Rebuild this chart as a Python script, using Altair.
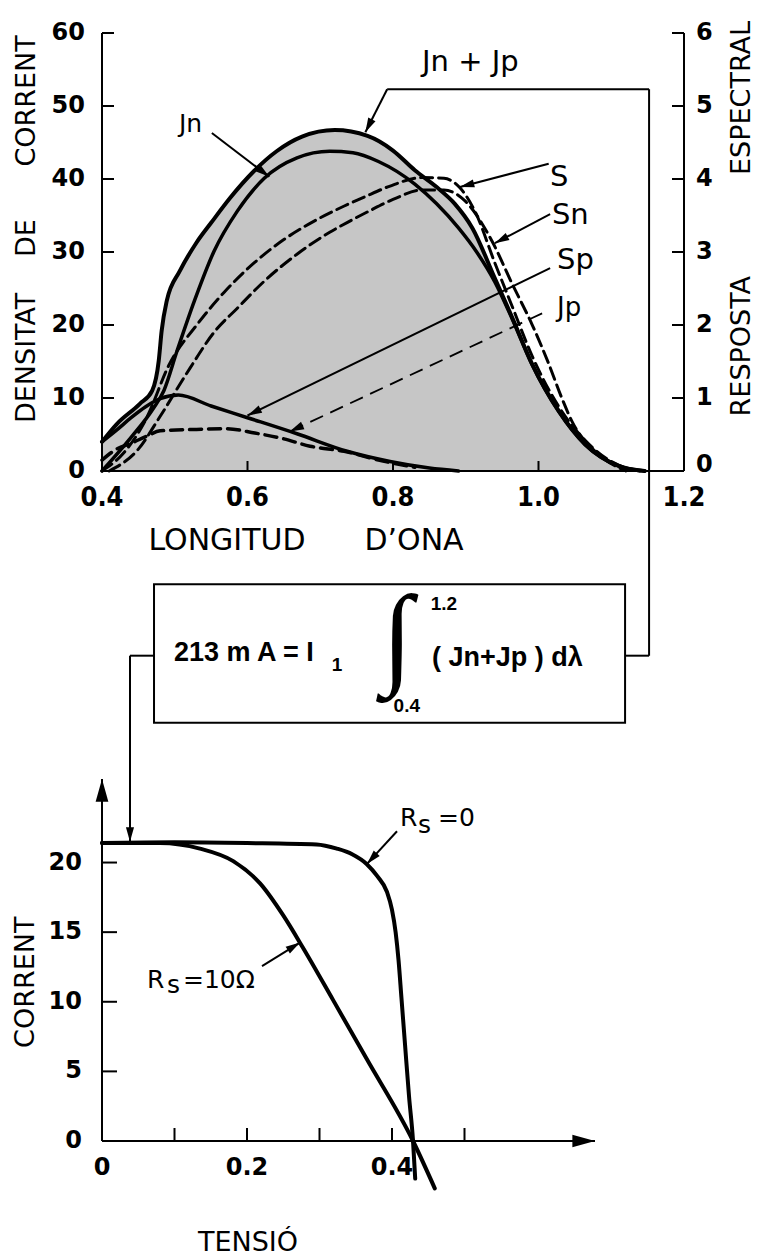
import math
import altair as alt
import pandas as pd

# ---------------- top panel: spectral current density (left axis 0-60) ----------------
wl_tot = [0.400, 0.420, 0.452, 0.469, 0.478, 0.482, 0.489, 0.507, 0.530, 0.550,
          0.576, 0.609, 0.640, 0.675, 0.720, 0.765, 0.800, 0.830, 0.860, 0.885,
          0.909, 0.940, 0.964, 0.991, 1.028, 1.064, 1.110, 1.146]
j_tot = [4.0, 6.4, 9.2, 11.0, 15.1, 19.2, 23.3, 27.4, 31.3, 34.0,
         37.4, 41.1, 43.8, 45.8, 46.7, 45.9, 43.9, 41.2, 38.9, 36.6,
         33.3, 26.4, 21.0, 14.7, 8.2, 3.7, 0.7, 0.0]

wl_jn = [0.400, 0.440, 0.470, 0.485, 0.503, 0.527, 0.554, 0.586, 0.623, 0.668,
         0.713, 0.745, 0.780, 0.830, 0.860, 0.890, 0.915, 0.940, 0.964, 0.991,
         1.028, 1.064, 1.110, 1.146]
j_jn = [0.0, 4.6, 8.5, 11.0, 16.4, 23.3, 30.1, 35.6, 40.1, 42.9,
        43.8, 43.6, 42.4, 39.3, 36.6, 33.3, 30.0, 25.9, 20.8, 14.6,
        8.1, 3.6, 0.7, 0.0]

wl_jp = [0.400, 0.420, 0.440, 0.460, 0.480, 0.505, 0.550, 0.600, 0.668, 0.737,
         0.796, 0.850, 0.890]
j_jp = [4.0, 5.6, 7.3, 8.8, 9.9, 10.4, 8.9, 7.3, 5.1, 2.7, 1.3, 0.4, 0.0]

# spectral response (right axis 0-6)
wl_s = [0.400, 0.430, 0.460, 0.493, 0.531, 0.568, 0.609, 0.650, 0.691, 0.733,
        0.762, 0.795, 0.840, 0.870, 0.892, 0.913, 0.940, 0.964, 0.991, 1.028,
        1.064, 1.110, 1.140]
s_s = [0.00, 0.25, 0.70, 1.47, 2.01, 2.45, 2.85, 3.17, 3.42, 3.63,
       3.76, 3.90, 4.02, 4.01, 3.88, 3.55, 2.85, 2.25, 1.58, 0.88,
       0.42, 0.08, 0.00]

wl_sn = [0.410, 0.450, 0.480, 0.521, 0.554, 0.586, 0.623, 0.668, 0.713, 0.740,
         0.767, 0.800, 0.840, 0.870, 0.899, 0.936, 0.964, 0.991, 1.014, 1.032,
         1.046, 1.080, 1.120]
s_sn = [0.00, 0.30, 0.75, 1.41, 1.90, 2.23, 2.60, 2.97, 3.27, 3.42,
        3.56, 3.72, 3.85, 3.85, 3.70, 3.15, 2.56, 2.01, 1.47, 1.00,
        0.68, 0.25, 0.00]

wl_sp = [0.400, 0.420, 0.440, 0.462, 0.480, 0.530, 0.570, 0.610, 0.650, 0.686,
         0.733, 0.780, 0.830]
s_sp = [0.15, 0.30, 0.38, 0.48, 0.55, 0.57, 0.58, 0.52, 0.44, 0.34,
        0.27, 0.15, 0.05]

top_x_labels = [0.4, 0.6, 0.8, 1.0, 1.2]
top_x_inner_ticks = [0.6, 0.8, 1.0]
left_ticks = [0, 10, 20, 30, 40, 50, 60]
right_ticks = [0, 1, 2, 3, 4, 5, 6]
right_label_y = [0.08, 1, 2, 3, 4, 5, 6]

# ---------------- bottom panel: I-V curves ----------------
v_rs0 = [0.000, 0.100, 0.200, 0.296, 0.324, 0.345, 0.365, 0.380, 0.393, 0.400,
         0.405, 0.409, 0.413, 0.418, 0.4235, 0.429, 0.432]
i_rs0 = [21.4, 21.45, 21.4, 21.3, 21.0, 20.6, 19.9, 19.0, 17.9, 16.6,
         15.0, 13.0, 10.3, 6.9, 3.2, 0.0, -2.7]
v_rs10 = [0.000, 0.080, 0.135, 0.181, 0.218, 0.250, 0.277, 0.319, 0.365, 0.429, 0.459]
i_rs10 = [21.4, 21.4, 21.0, 20.1, 18.5, 16.2, 13.9, 10.1, 5.9, 0.0, -3.4]

bot_x_labels = [0, 0.2, 0.4]
bot_x_label_text = ["0", "0.2", "0.4"]
bot_x_ticks = [0.1, 0.2, 0.3, 0.4, 0.5]
bot_y_ticks = [0, 5, 10, 15, 20]

# ---------------- annotation positions (data coordinates) ----------------
lead_x0 = [0.792, 0.551, 1.014, 1.016, 1.016]
lead_y0 = [52.3, 46.3, 42.1, 35.2, 27.8]
lead_x1 = [0.762, 0.630, 0.892, 0.940, 0.600]
lead_y1 = [46.4, 40.3, 38.9, 31.2, 7.6]
dlead_x0, dlead_y0, dlead_x1, dlead_y1 = [1.005], [21.6], [0.658], [5.4]

conn_x0 = [0.792, 1.152, 1.152, 0.4715, 0.4385]
conn_y0 = [52.3, 52.3, -25.3, -25.3, -25.3]
conn_x1 = [1.152, 1.152, 1.119, 0.4385, 0.4385]
conn_y1 = [52.3, -25.3, -25.3, -25.3, -40.5]
box_x, box_x2, box_y, box_y2 = [0.4715], [1.119], [-15.5], [-34.5]

lab_text = ["Jn + Jp", "Jn", "S", "Sn", "Sp", "Jp"]
lab_x = [0.8399, 0.5058, 1.0158, 1.0185, 1.0254, 1.0254]
lab_y = [54.8, 46.4, 39.0, 33.8, 27.7, 21.2]
lab_size = [29, 25, 29, 29, 29, 26]

ytitle_text = ["DENSITAT", "DE", "CORRENT"]
ytitle_y = [15.5, 31.9, 50.7]
rtitle_text = ["RESPOSTA", "ESPECTRAL"]
rtitle_y = [17.1, 51.1]
xtitle_text = ["LONGITUD", "D\u2019ONA"]
xtitle_x = [0.5718, 0.8289]

blead_x0 = [0.0386, 0.4069, 0.2207]
blead_y0 = [27.6, 22.25, 12.56]
blead_x1 = [0.0386, 0.3655, 0.2731]
blead_y1 = [21.5, 19.9, 14.25]

rs_text = ["R", "s", "=0", "R", "s", "=10\u03a9"]
rs_x = [0.4110, 0.4359, 0.4634, 0.0621, 0.0897, 0.1117]
rs_y = [22.61, 22.11, 22.61, 11.0, 10.6, 11.0]

# ---------------- helpers ----------------
FONT = "DejaVu Sans"
NARROW = "Liberation Sans Narrow, DejaVu Sans Condensed, Liberation Sans"
FORM = "Liberation Sans"
ARROW = "M0,0L0.45,1.6L-0.45,1.6Z"

XD1, YD1, RD1 = [0.4, 1.2], [0, 60], [0, 6]
W1, H1 = 582, 438
KX1, KY1 = W1 / (XD1[1] - XD1[0]), H1 / (YD1[1] - YD1[0])
XD2, YD2 = [0, 0.68], [0, 26]
W2, H2 = 493, 362
KX2, KY2 = W2 / (XD2[1] - XD2[0]), H2 / (YD2[1] - YD2[0])

xs1 = alt.Scale(domain=XD1, nice=False, zero=False)
ys1 = alt.Scale(domain=YD1, nice=False, zero=False)
rs1 = alt.Scale(domain=RD1, nice=False, zero=False)
xs2 = alt.Scale(domain=XD2, nice=False, zero=False)
ys2 = alt.Scale(domain=YD2, nice=False, zero=False)


def angle(x0, y0, x1, y1, kx, ky):
    dx = (x1 - x0) * kx
    dy = -(y1 - y0) * ky
    return math.degrees(math.atan2(dx, -dy)) % 360


def XY(xsc, ysc):
    return dict(x=alt.X("x:Q", scale=xsc, axis=None), y=alt.Y("y:Q", scale=ysc, axis=None))


def curve(x, y, xsc, ysc, **mk):
    return alt.Chart(pd.DataFrame({"x": x, "y": y})).mark_line(
        color="black", strokeJoin="round", strokeCap="round", interpolate="monotone",
        **mk).encode(**XY(xsc, ysc))


def segs(x0, y0, x1, y1, xsc, ysc, **mk):
    d = pd.DataFrame({"x": x0, "y": y0, "x2": x1, "y2": y1})
    return alt.Chart(d).mark_rule(color="black", **mk).encode(
        **XY(xsc, ysc), x2="x2:Q", y2="y2:Q")


def heads(x0, y0, x1, y1, xsc, ysc, kx, ky, size=324):
    d = pd.DataFrame({"x": x1, "y": y1,
                      "a": [angle(a, b, c, e, kx, ky) for a, b, c, e in zip(x0, y0, x1, y1)]})
    return alt.Chart(d).mark_point(shape=ARROW, filled=True, color="black", opacity=1,
                                   size=size, strokeWidth=0).encode(
        **XY(xsc, ysc), angle=alt.Angle("a:Q", scale=None))


def texts(t, x, y, xsc, ysc, size=None, **mk):
    d = pd.DataFrame({"x": x, "y": y, "t": t})
    enc = XY(xsc, ysc)
    enc["text"] = "t:N"
    if size is not None:
        d["s"] = size
        enc["size"] = alt.Size("s:Q", scale=None)
    return alt.Chart(d).mark_text(color="black", **mk).encode(**enc)


# ---------------- top panel ----------------
tick_len_x = 12 / KX1
tick_len_y = 10 / KY1
lt = left_ticks[1:]
rt = right_ticks[1:]
bt = top_x_inner_ticks

left_group = alt.layer(
    alt.Chart(pd.DataFrame({"x": wl_tot, "y": j_tot})).mark_area(
        color="#c6c6c6", interpolate="monotone").encode(**XY(xs1, ys1)),
    curve(wl_tot, j_tot, xs1, ys1, strokeWidth=4),
    curve(wl_jn, j_jn, xs1, ys1, strokeWidth=3.5),
    curve(wl_jp, j_jp, xs1, ys1, strokeWidth=3.5),
    # axis lines
    segs([0.4, 1.2, 0.4], [0, 0, 0], [0.4, 1.2, 1.2], [60, 60, 0], xs1, ys1, strokeWidth=2),
    segs([0.4] * len(lt), lt, [0.4 + tick_len_x] * len(lt), lt, xs1, ys1, strokeWidth=2),
    segs(bt, [0] * len(bt), bt, [tick_len_y] * len(bt), xs1, ys1, strokeWidth=2),
    # axis labels
    texts([str(v) for v in left_ticks], [0.4 - 17 / KX1] * len(left_ticks), left_ticks,
          xs1, ys1, font=FONT, fontSize=24, fontWeight="bold", align="right",
          baseline="middle"),
    texts(["%.1f" % v for v in top_x_labels], top_x_labels, [-27 / KY1] * len(top_x_labels),
          xs1, ys1, font=NARROW, fontSize=27, fontWeight="bold", align="center",
          baseline="middle"),
    # connectors and leaders
    segs(conn_x0, conn_y0, conn_x1, conn_y1, xs1, ys1, strokeWidth=2),
    segs(lead_x0, lead_y0, lead_x1, lead_y1, xs1, ys1, strokeWidth=2),
    segs(dlead_x0, dlead_y0, dlead_x1, dlead_y1, xs1, ys1, strokeWidth=1.8, strokeDash=[14, 8]),
    heads(lead_x0, lead_y0, lead_x1, lead_y1, xs1, ys1, KX1, KY1),
    heads(dlead_x0, dlead_y0, dlead_x1, dlead_y1, xs1, ys1, KX1, KY1),
    alt.Chart(pd.DataFrame({"x": box_x, "x2": box_x2, "y": box_y, "y2": box_y2})).mark_rect(
        fillOpacity=0, stroke="black", strokeWidth=2).encode(**XY(xs1, ys1), x2="x2:Q", y2="y2:Q"),
    texts(lab_text, lab_x, lab_y, xs1, ys1, size=lab_size, font=FONT, align="left",
          baseline="alphabetic"),
    texts(ytitle_text, [0.4 - 75 / KX1] * 3, ytitle_y, xs1, ys1, font=FONT, fontSize=27,
          angle=270, align="center", baseline="middle"),
    texts(rtitle_text, [1.2797] * 2, rtitle_y, xs1, ys1, font=FONT, fontSize=27, angle=270,
          align="center", baseline="middle"),
    texts(xtitle_text, xtitle_x, [-9.6] * 2, xs1, ys1, font=FONT, fontSize=30,
          align="center", baseline="middle"),
    # formula
    texts(["213 m A = I"], [0.499], [-24.9], xs1, ys1, font=FORM, fontSize=27,
          fontWeight="bold", align="left", baseline="middle"),
    texts(["1"], [0.723], [-26.6], xs1, ys1, font=FORM, fontSize=19, fontWeight="bold",
          align="center", baseline="middle"),
    texts(["\u222b"], [0.8055], [-23.0], xs1, ys1, font="Liberation Serif, DejaVu Serif",
          fontSize=112, align="center", baseline="middle"),
    texts(["1.2", "0.4"], [0.870, 0.819], [-18.2, -32.2], xs1, ys1, font=FORM, fontSize=19,
          fontWeight="bold", align="center", baseline="middle"),
    texts(["( Jn+Jp ) d\u03bb"], [0.8536], [-25.6], xs1, ys1, font=FORM, fontSize=27,
          fontWeight="bold", align="left", baseline="middle"),
)

right_group = alt.layer(
    curve(wl_s, s_s, xs1, rs1, strokeWidth=3, strokeDash=[12, 6]),
    curve(wl_sn, s_sn, xs1, rs1, strokeWidth=3, strokeDash=[12, 6]),
    curve(wl_sp, s_sp, xs1, rs1, strokeWidth=3.5, strokeDash=[12, 7]),
    segs([1.2 - tick_len_x] * len(rt), rt, [1.2] * len(rt), rt, xs1, rs1, strokeWidth=2),
    texts([str(v) for v in right_ticks], [1.2 + 12 / KX1] * len(right_ticks), right_label_y,
          xs1, rs1, font=FONT, fontSize=24, fontWeight="bold", align="left",
          baseline="middle"),
)

top = alt.layer(left_group, right_group).resolve_scale(y="independent").properties(
    width=W1, height=H1)

# ---------------- bottom panel ----------------
ytk = bot_y_ticks[1:]
bottom = alt.layer(
    curve(v_rs0, i_rs0, xs2, ys2, strokeWidth=4),
    curve(v_rs10, i_rs10, xs2, ys2, strokeWidth=4),
    segs([0, 0], [0, 0], [0, 0.68], [26, 0], xs2, ys2, strokeWidth=2),
    segs([0] * len(ytk), ytk, [15 / KX2] * len(ytk), ytk, xs2, ys2, strokeWidth=2),
    segs(bot_x_ticks, [0] * len(bot_x_ticks), bot_x_ticks, [13 / KY2] * len(bot_x_ticks),
         xs2, ys2, strokeWidth=2),
    texts([str(v) for v in bot_y_ticks], [-20 / KX2] * len(bot_y_ticks), bot_y_ticks,
          xs2, ys2, font=FONT, fontSize=24, fontWeight="bold", align="right",
          baseline="middle"),
    texts(bot_x_label_text, bot_x_labels, [-27 / KY2] * len(bot_x_labels), xs2, ys2,
          font=FONT, fontSize=24, fontWeight="bold", align="center", baseline="middle"),
    segs(blead_x0, blead_y0, blead_x1, blead_y1, xs2, ys2, strokeWidth=2),
    heads(blead_x0, blead_y0, blead_x1, blead_y1, xs2, ys2, KX2, KY2),
    heads([0, 0.6], [25, 0], [0, 0.68], [26, 0], xs2, ys2, KX2, KY2, size=800),
    texts(rs_text, rs_x, rs_y, xs2, ys2, font=FONT, fontSize=25, align="left",
          baseline="alphabetic"),
    texts(["CORRENT"], [-76 / KX2], [11.4], xs2, ys2, font=FONT, fontSize=27, angle=270,
          align="center", baseline="middle"),
    texts(["TENSI\u00d3"], [0.2014], [-7.3], xs2, ys2, font=FONT, fontSize=27,
          align="center", baseline="middle"),
).properties(width=W2, height=H2)

chart = alt.vconcat(top, bottom, spacing=308, bounds="flush").properties(
    padding={"left": 3, "top": 12, "right": 0, "bottom": 0},
    background="white",
).configure_view(stroke="transparent")

chart.save("out.html", embed_options={"renderer": "svg", "actions": False})
